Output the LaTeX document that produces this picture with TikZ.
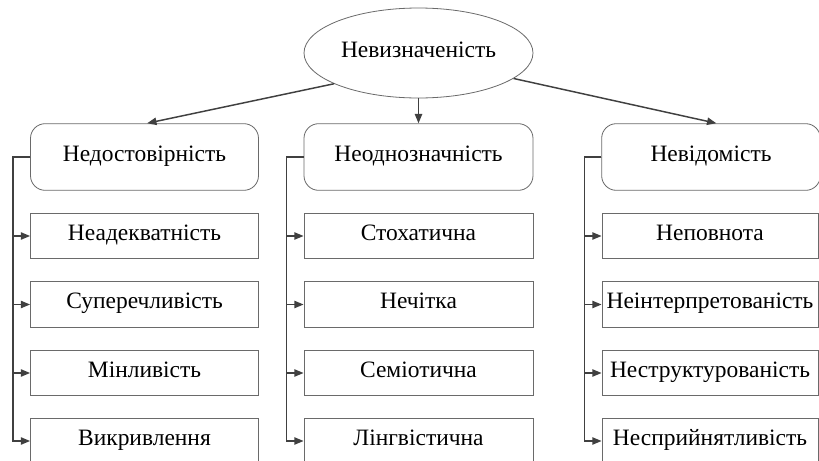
\documentclass[tikz,border=0pt]{standalone}
\usepackage{fontspec}
\setmainfont{Liberation Serif}
\usetikzlibrary{shapes.geometric,arrows.meta}
\definecolor{lncol}{HTML}{404040}
\definecolor{bdcol}{HTML}{6A6A6A}
\tikzset{
  x=0.75pt, y=-0.75pt,
  txt/.style={font=\fontsize{17.6pt}{20pt}\selectfont, text=black, inner sep=0pt, text height=0.66em, text depth=0pt},
  ell/.style={txt, ellipse, draw=bdcol, line width=0.6pt, minimum width=171.75pt, minimum height=67.5pt},
  rbox/.style={txt, draw=bdcol, line width=0.6pt, rounded corners=11pt, minimum height=50pt},
  sbox/.style={txt, draw=bdcol, line width=0.6pt, minimum height=34pt},
  conn/.style={draw=lncol, line width=1.1pt, -{Triangle[length=7pt,width=5.5pt]}},
}
\begin{document}
\begin{tikzpicture}
\clip (0,0) rectangle (819,461);
\fill[white] (0,0) rectangle (819,461);

\node[ell] (top) at (418.5,53) {Невизначеність};

\node[rbox, minimum width=171pt] (b1) at (144.5,157) {Недостовірність};
\node[rbox, minimum width=171.75pt] (b2) at (418.5,157) {Неоднозначність};
\node[rbox, minimum width=164pt] (b3) at (711,157) {Невідомість};

\node[sbox, minimum width=171pt] (r11) at (144.5,236) {Неадекватність};
\node[sbox, minimum width=171pt] (r12) at (144.5,304.5) {Суперечливість};
\node[sbox, minimum width=171pt] (r13) at (144.5,373) {Мінливість};
\node[sbox, minimum width=171pt] (r14) at (144.5,441) {Викривлення};

\node[sbox, minimum width=171.75pt] (r21) at (418.5,236) {Стохатична};
\node[sbox, minimum width=171.75pt] (r22) at (418.5,304.5) {Нечітка};
\node[sbox, minimum width=171.75pt] (r23) at (418.5,373) {Семіотична};
\node[sbox, minimum width=171.75pt] (r24) at (418.5,441) {Лінгвістична};

\node[sbox, minimum width=162pt] (r31) at (710,236) {Неповнота};
\node[sbox, minimum width=162pt] (r32) at (710,304.5) {Неінтерпретованість};
\node[sbox, minimum width=162pt] (r33) at (710,373) {Неструктурованість};
\node[sbox, minimum width=162pt] (r34) at (710,441) {Несприйнятливість};

\draw[conn] (top.200) -- ([xshift=2pt]b1.north);
\draw[conn] (top.south) -- (b2.north);
\draw[conn] (top.-15) -- ([xshift=4pt]b3.north);

\foreach \c in {1,2,3}{
  \foreach \r in {1,2,3,4}{
    \draw[conn] (b\c.west) -- ++(-17,0) |- (r\c\r.west);
  }
}
\end{tikzpicture}
\end{document}
